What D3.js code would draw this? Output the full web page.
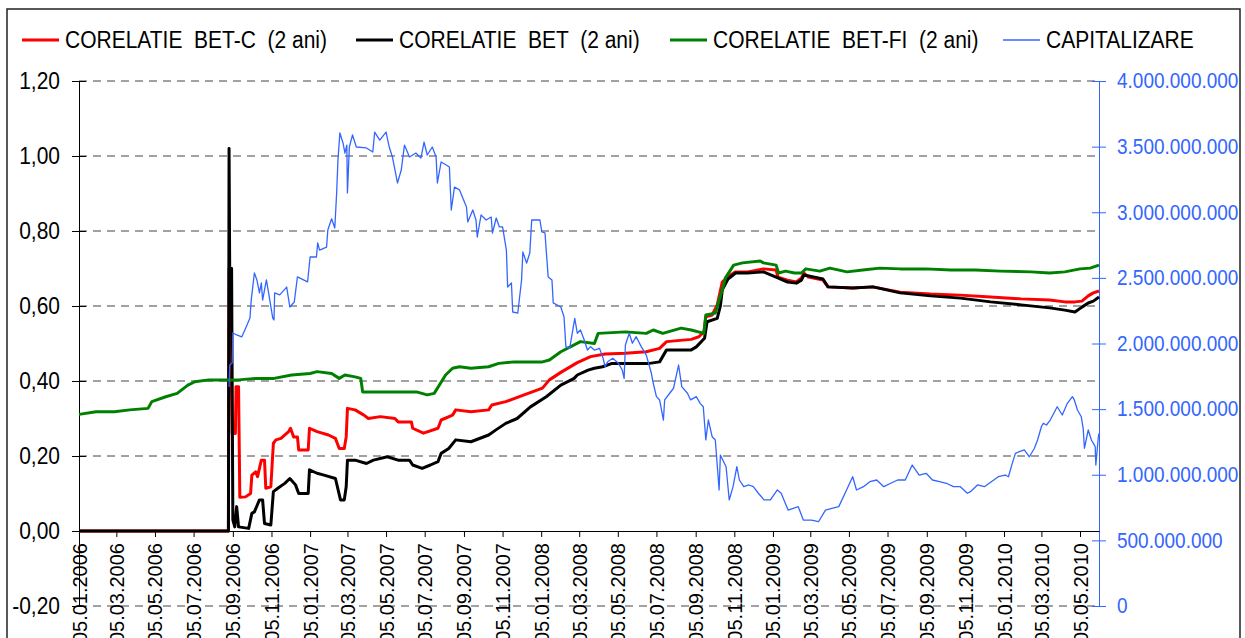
<!doctype html>
<html>
<head>
<meta charset="UTF-8">
<title>Corelatie BET / Capitalizare</title>
<script src="https://cdn.jsdelivr.net/npm/d3@7"></script>
<style>
body { margin: 0; background: #fff; }
text { font-family: "Liberation Sans", Arial, sans-serif; }
.legend text { white-space: pre; }
</style>
</head>
<body>
<script>

// tick labels of the date axis (every 2 months)
var tickLabels = ["05.01.2006","05.03.2006","05.05.2006","05.07.2006","05.09.2006","05.11.2006",
  "05.01.2007","05.03.2007","05.05.2007","05.07.2007","05.09.2007","05.11.2007",
  "05.01.2008","05.03.2008","05.05.2008","05.07.2008","05.09.2008","05.11.2008",
  "05.01.2009","05.03.2009","05.05.2009","05.07.2009","05.09.2009","05.11.2009",
  "05.01.2010","05.03.2010","05.05.2010"];

var leftTicks = [-0.2, 0, 0.2, 0.4, 0.6, 0.8, 1.0, 1.2];
var rightTicks = [0, 500, 1000, 1500, 2000, 2500, 3000, 3500, 4000]; // milioane

var seriesNames = ["CORELATIE  BET-C  (2 ani)", "CORELATIE  BET  (2 ani)", "CORELATIE  BET-FI  (2 ani)", "CAPITALIZARE"];

// corelatie BET-C
var betc = [
  ["2006-01-05",0],["2006-08-29",0],["2006-08-30",0.70],["2006-09-02",0.56],["2006-09-04",0.26],
  ["2006-09-09",0.26],["2006-09-10",0.385],["2006-09-14",0.385],["2006-09-16",0.09],["2006-09-25",0.091],
  ["2006-10-03",0.10],["2006-10-05",0.149],["2006-10-11",0.158],["2006-10-14",0.145],["2006-10-20",0.189],
  ["2006-10-25",0.189],["2006-10-27",0.114],["2006-11-04",0.118],["2006-11-08",0.234],["2006-11-12",0.243],
  ["2006-11-20",0.247],["2006-12-02",0.265],["2006-12-05",0.274],["2006-12-10",0.251],["2006-12-16",0.251],
  ["2006-12-18",0.216],["2007-01-02",0.216],["2007-01-04",0.274],["2007-01-16",0.265],["2007-02-03",0.256],
  ["2007-02-14",0.247],["2007-02-20",0.22],["2007-02-28",0.22],["2007-03-03",0.251],["2007-03-05",0.327],
  ["2007-03-17",0.323],["2007-03-31",0.309],["2007-04-07",0.30],["2007-04-26",0.305],["2007-05-19",0.30],
  ["2007-05-24",0.291],["2007-06-14",0.291],["2007-06-16",0.274],["2007-07-03",0.261],["2007-07-26",0.274],
  ["2007-07-31",0.296],["2007-08-18",0.309],["2007-08-23",0.323],["2007-09-16",0.318],["2007-10-14",0.323],
  ["2007-10-19",0.336],["2007-11-10",0.345],["2007-12-09",0.363],["2008-01-07",0.381],["2008-01-18",0.403],
  ["2008-02-05",0.423],["2008-03-02",0.449],["2008-03-23",0.465],["2008-04-15",0.472],["2008-05-17",0.474],
  ["2008-06-19",0.478],["2008-07-10",0.487],["2008-07-21",0.505],["2008-08-29",0.511],["2008-09-10",0.518],
  ["2008-09-18",0.531],["2008-09-21",0.571],["2008-10-01",0.576],["2008-10-09",0.603],["2008-10-17",0.664],
  ["2008-10-25",0.677],["2008-11-07",0.691],["2008-11-26",0.691],["2008-12-21",0.699],["2009-01-10",0.696],
  ["2009-01-13",0.677],["2009-01-28",0.669],["2009-02-11",0.664],["2009-02-19",0.675],["2009-02-23",0.688],
  ["2009-03-02",0.677],["2009-03-25",0.669],["2009-04-02",0.651],["2009-05-11",0.648],["2009-06-12",0.651],
  ["2009-07-25",0.637],["2009-09-11",0.632],["2009-10-28",0.629],["2009-12-15",0.624],["2010-02-01",0.619],
  ["2010-03-18",0.616],["2010-04-11",0.611],["2010-04-27",0.611],["2010-05-08",0.613],["2010-05-18",0.627],
  ["2010-05-26",0.635],["2010-06-04",0.64]
];

// corelatie BET
var bet = [
  ["2006-01-05",0],["2006-08-29",0],["2006-08-30",1.02],["2006-08-31",0.70],["2006-09-03",0.70],
  ["2006-09-05",0.03],["2006-09-08",0.011],["2006-09-11",0.065],["2006-09-14",0.011],["2006-09-30",0.007],
  ["2006-10-05",0.047],["2006-10-09",0.051],["2006-10-17",0.083],["2006-10-22",0.083],["2006-10-25",0.02],
  ["2006-11-04",0.016],["2006-11-08",0.105],["2006-11-15",0.114],["2006-11-26",0.127],["2006-12-04",0.14],
  ["2006-12-13",0.123],["2006-12-18",0.10],["2007-01-02",0.10],["2007-01-04",0.163],["2007-01-16",0.154],
  ["2007-01-27",0.149],["2007-02-14",0.14],["2007-02-22",0.083],["2007-02-28",0.083],["2007-03-03",0.118],
  ["2007-03-05",0.189],["2007-03-17",0.189],["2007-04-04",0.18],["2007-04-15",0.189],["2007-05-07",0.198],
  ["2007-05-24",0.189],["2007-06-11",0.189],["2007-06-16",0.176],["2007-07-01",0.167],["2007-07-14",0.176],
  ["2007-07-26",0.185],["2007-07-31",0.207],["2007-08-12",0.22],["2007-08-23",0.243],["2007-09-16",0.238],
  ["2007-10-14",0.256],["2007-10-25",0.269],["2007-11-10",0.287],["2007-11-28",0.30],["2007-12-19",0.331],
  ["2008-01-13",0.358],["2008-02-05",0.389],["2008-02-26",0.407],["2008-03-02",0.416],["2008-03-19",0.429],
  ["2008-03-29",0.434],["2008-04-11",0.438],["2008-04-26",0.447],["2008-05-23",0.447],["2008-06-24",0.447],
  ["2008-07-10",0.451],["2008-07-21",0.483],["2008-08-29",0.483],["2008-09-06",0.491],["2008-09-19",0.514],
  ["2008-09-23",0.558],["2008-10-09",0.567],["2008-10-14",0.60],["2008-10-17",0.643],["2008-10-26",0.672],
  ["2008-11-07",0.688],["2008-11-26",0.688],["2008-12-21",0.691],["2009-01-10",0.677],["2009-01-28",0.664],
  ["2009-02-11",0.661],["2009-02-19",0.669],["2009-02-23",0.683],["2009-03-25",0.672],["2009-04-02",0.651],
  ["2009-05-11",0.648],["2009-06-12",0.651],["2009-07-25",0.635],["2009-09-11",0.627],["2009-10-28",0.621],
  ["2009-12-15",0.611],["2010-02-01",0.603],["2010-03-18",0.595],["2010-04-11",0.589],["2010-04-27",0.584],
  ["2010-05-08",0.597],["2010-05-18",0.608],["2010-05-26",0.613],["2010-06-04",0.624]
];

// corelatie BET-FI
var betfi = [
  ["2006-01-05",0.311],["2006-02-01",0.318],["2006-03-02",0.318],["2006-03-26",0.323],["2006-04-24",0.327],
  ["2006-04-30",0.345],["2006-05-22",0.358],["2006-06-09",0.367],["2006-06-26",0.389],["2006-07-07",0.398],
  ["2006-07-29",0.403],["2006-08-27",0.403],["2006-09-14",0.403],["2006-10-11",0.407],["2006-11-09",0.407],
  ["2006-12-07",0.416],["2007-01-05",0.42],["2007-01-16",0.425],["2007-02-08",0.42],["2007-02-20",0.407],
  ["2007-03-01",0.416],["2007-03-17",0.411],["2007-03-26",0.407],["2007-03-29",0.371],["2007-04-26",0.371],
  ["2007-05-24",0.371],["2007-06-22",0.371],["2007-07-09",0.363],["2007-07-20",0.367],["2007-08-07",0.416],
  ["2007-08-18",0.434],["2007-08-29",0.438],["2007-09-16",0.434],["2007-10-14",0.438],["2007-10-30",0.447],
  ["2007-11-23",0.451],["2008-01-07",0.451],["2008-01-18",0.456],["2008-02-05",0.478],["2008-03-07",0.505],
  ["2008-03-29",0.50],["2008-04-04",0.527],["2008-05-17",0.531],["2008-06-19",0.527],["2008-06-30",0.536],
  ["2008-07-15",0.527],["2008-08-13",0.541],["2008-08-29",0.536],["2008-09-18",0.527],["2008-09-21",0.576],
  ["2008-10-06",0.581],["2008-10-12",0.616],["2008-10-17",0.643],["2008-10-22",0.675],["2008-11-04",0.709],
  ["2008-11-18",0.715],["2008-12-16",0.72],["2008-12-21",0.715],["2009-01-10",0.709],["2009-01-14",0.688],
  ["2009-01-25",0.693],["2009-02-08",0.688],["2009-02-19",0.688],["2009-02-26",0.699],["2009-03-20",0.693],
  ["2009-04-05",0.701],["2009-05-02",0.691],["2009-05-27",0.696],["2009-06-23",0.701],["2009-07-25",0.699],
  ["2009-09-03",0.699],["2009-10-13",0.696],["2009-11-21",0.696],["2009-12-30",0.693],["2010-02-17",0.691],
  ["2010-03-18",0.688],["2010-04-11",0.691],["2010-05-05",0.699],["2010-05-21",0.701],["2010-06-04",0.709]
];

// capitalizare, milioane
var capitalizare = [
  ["2006-08-30",1669],["2006-08-31",1836],["2006-09-04",1851],["2006-09-05",2080],["2006-09-11",2065],
  ["2006-09-19",2050],["2006-09-26",2126],["2006-10-02",2194],["2006-10-04",2331],["2006-10-09",2537],
  ["2006-10-13",2484],["2006-10-17",2385],["2006-10-20",2461],["2006-10-22",2331],["2006-10-28",2484],
  ["2006-11-01",2370],["2006-11-07",2194],["2006-11-09",2179],["2006-11-10",2385],["2006-11-18",2370],
  ["2006-11-29",2430],["2006-12-04",2278],["2006-12-11",2316],["2006-12-16",2507],["2007-01-01",2469],
  ["2007-01-05",2659],["2007-01-15",2659],["2007-01-17",2766],["2007-01-20",2712],["2007-01-31",2735],
  ["2007-02-02",2865],["2007-02-08",2950],["2007-02-13",2880],["2007-02-16",3154],["2007-02-18",3398],
  ["2007-02-21",3604],["2007-02-26",3528],["2007-03-01",3451],["2007-03-04",3512],["2007-03-05",3147],
  ["2007-03-08",3497],["2007-03-13",3589],["2007-03-19",3497],["2007-04-04",3490],["2007-04-14",3459],
  ["2007-04-17",3611],["2007-04-25",3550],["2007-05-05",3611],["2007-05-10",3497],["2007-05-15",3421],
  ["2007-05-23",3223],["2007-05-29",3322],["2007-06-03",3512],["2007-06-11",3421],["2007-06-21",3451],
  ["2007-06-29",3413],["2007-07-04",3535],["2007-07-09",3436],["2007-07-17",3497],["2007-07-23",3421],
  ["2007-07-25",3223],["2007-07-31",3383],["2007-08-08",3360],["2007-08-13",3345],["2007-08-16",3017],
  ["2007-08-21",3192],["2007-08-29",3170],["2007-09-09",3040],["2007-09-11",2926],["2007-09-19",3017],
  ["2007-09-24",2941],["2007-09-26",2811],["2007-10-02",2979],["2007-10-10",2941],["2007-10-18",2964],
  ["2007-10-20",2842],["2007-10-26",2956],["2007-10-31",2888],["2007-11-05",2888],["2007-11-11",2712],
  ["2007-11-13",2430],["2007-11-19",2461],["2007-11-21",2240],["2007-11-29",2232],["2007-12-05",2484],
  ["2007-12-07",2697],["2007-12-13",2613],["2007-12-18",2690],["2007-12-21",2941],["2008-01-03",2941],
  ["2008-01-06",2850],["2008-01-11",2842],["2008-01-16",2507],["2008-01-22",2484],["2008-01-24",2309],
  ["2008-02-05",2278],["2008-02-10",2204],["2008-02-13",1976],["2008-02-19",1963],["2008-02-27",2192],
  ["2008-03-02",2078],["2008-03-07",2103],["2008-03-13",2027],["2008-03-18",1950],["2008-03-23",1976],
  ["2008-03-29",1950],["2008-04-06",1963],["2008-04-11",1900],["2008-04-15",1823],["2008-04-19",1861],
  ["2008-04-27",1887],["2008-05-06",1849],["2008-05-12",1798],["2008-05-15",1735],["2008-05-17",1989],
  ["2008-05-23",2078],["2008-05-28",2002],["2008-06-03",2052],["2008-06-11",1976],["2008-06-19",1912],
  ["2008-06-27",1773],["2008-06-30",1697],["2008-07-05",1595],["2008-07-10",1570],["2008-07-16",1417],
  ["2008-07-18",1570],["2008-07-26",1621],["2008-08-01",1659],["2008-08-09",1836],["2008-08-14",1671],
  ["2008-08-23",1621],["2008-08-28",1570],["2008-09-06",1595],["2008-09-12",1544],["2008-09-17",1518],
  ["2008-09-21",1265],["2008-09-25",1417],["2008-10-01",1290],["2008-10-06",1265],["2008-10-12",884],
  ["2008-10-14",1150],["2008-10-23",1061],["2008-10-28",808],["2008-11-03",909],["2008-11-09",1061],
  ["2008-11-13",960],["2008-11-20",909],["2008-11-28",922],["2008-12-05",909],["2008-12-13",859],
  ["2008-12-22",808],["2009-01-01",808],["2009-01-12",884],["2009-01-18",859],["2009-01-29",731],
  ["2009-02-14",757],["2009-02-22",655],["2009-03-07",655],["2009-03-18",642],["2009-03-29",731],
  ["2009-04-08",744],["2009-04-19",757],["2009-04-30",871],["2009-05-11",985],["2009-05-17",884],
  ["2009-05-28",909],["2009-06-07",947],["2009-06-18",960],["2009-06-29",909],["2009-07-10",935],
  ["2009-07-21",960],["2009-08-02",960],["2009-08-13",1074],["2009-08-24",998],["2009-09-04",1011],
  ["2009-09-14",960],["2009-09-25",947],["2009-10-06",935],["2009-10-17",909],["2009-10-28",909],
  ["2009-11-08",859],["2009-11-13",871],["2009-11-24",922],["2009-12-05",909],["2009-12-16",947],
  ["2009-12-27",985],["2010-01-07",998],["2010-01-12",985],["2010-01-18",1087],["2010-01-23",1163],
  ["2010-01-29",1176],["2010-02-06",1189],["2010-02-14",1137],["2010-02-22",1202],["2010-02-27",1265],
  ["2010-03-05",1366],["2010-03-08",1392],["2010-03-13",1379],["2010-03-19",1417],["2010-03-30",1518],
  ["2010-04-07",1455],["2010-04-15",1544],["2010-04-23",1595],["2010-04-26",1570],["2010-05-01",1493],
  ["2010-05-07",1442],["2010-05-10",1354],["2010-05-12",1202],["2010-05-18",1341],["2010-05-23",1265],
  ["2010-05-29",1214],["2010-05-30",1074],["2010-06-03",1290],["2010-06-04",1316]
];

var colors = ["#ff0000", "#000000", "#008000", "#3366ff"];

var w = 1245;
var h = 638;
var plot = {left: 79, right: 1099, top: 81, bottom: 606};

var parseDate = d3.timeParse("%Y-%m-%d");
var parseTick = d3.timeParse("%d.%m.%Y");

var xScale = d3.scaleTime()
  .domain([parseDate("2006-01-05"), parseDate("2010-06-04")])
  .range([plot.left, plot.right]);

var yScale = d3.scaleLinear()
  .domain([-0.2, 1.2])
  .range([plot.bottom, plot.top]);

var y2Scale = d3.scaleLinear()
  .domain([0, 4000])
  .range([plot.bottom, plot.top]);

var roLocale = d3.formatLocale({decimal: ",", thousands: ".", grouping: [3], currency: ["", ""], minus: "-"});
var fmtLeft = roLocale.format(".2f");
var fmtRight = roLocale.format(",.0f");

// the original text is a bit taller than wide, stretch it vertically
function stretch(sel, k) {
  sel.each(function() {
    var t = d3.select(this);
    var x = +t.attr("x") || 0;
    var y = +t.attr("y") || 0;
    t.attr("x", 0).attr("y", 0)
     .attr("transform", "translate(" + x + "," + y + ") scale(1," + k + ")");
  });
}

var svg = d3.select("body")
  .append("svg")
  .attr("width", w)
  .attr("height", h);

// chart border
svg.append("rect")
  .attr("x", 7).attr("y", 9)
  .attr("width", 1233).attr("height", 700)
  .attr("fill", "none")
  .attr("stroke", "#222")
  .attr("stroke-width", 1.5);

// dashed grid lines
svg.append("g")
  .selectAll("line")
  .data(leftTicks.filter(function(d) { return d !== 0; }))
  .enter()
  .append("line")
  .attr("x1", plot.left)
  .attr("x2", plot.right)
  .attr("y1", function(d) { return yScale(d); })
  .attr("y2", function(d) { return yScale(d); })
  .attr("stroke", "#444")
  .attr("stroke-width", 1)
  .attr("stroke-dasharray", "8,6");

// left axis
var gy = svg.append("g")
  .attr("transform", "translate(" + plot.left + ",0)")
  .call(d3.axisLeft(yScale).tickValues(leftTicks).tickFormat(fmtLeft).tickSize(7).tickSizeOuter(0).tickPadding(12));
gy.selectAll(".tick line").attr("x1", 7);
gy.selectAll("text").attr("font-size", "21px").attr("fill", "#000").style("font-family", "Liberation Sans, Arial, sans-serif")
  .call(stretch, 1.12);

// right axis
var gy2 = svg.append("g")
  .attr("transform", "translate(" + plot.right + ",0)")
  .call(d3.axisRight(y2Scale).tickValues(rightTicks).tickFormat(function(d) { return fmtRight(d * 1e6); })
    .tickSize(7).tickSizeOuter(0).tickPadding(11));
gy2.selectAll(".tick line").attr("x1", -7).attr("stroke", colors[3]);
gy2.select(".domain").attr("stroke", colors[3]);
gy2.selectAll("text").attr("font-size", "19px").attr("fill", colors[3]).style("font-family", "Liberation Sans, Arial, sans-serif")
  .call(stretch, 1.12);

// date axis on the zero line
var gx = svg.append("g")
  .attr("transform", "translate(0," + yScale(0) + ")")
  .call(d3.axisBottom(xScale)
    .tickValues(tickLabels.map(function(t) { return parseTick(t); }))
    .tickFormat(function(d, i) { return tickLabels[i]; })
    .tickSize(6).tickSizeOuter(0));
gx.selectAll("text")
  .attr("transform", "rotate(-90)")
  .attr("text-anchor", "end")
  .attr("x", -12)
  .attr("y", 0)
  .attr("dy", "0.35em")
  .attr("font-size", "20px")
  .attr("fill", "#000")
  .style("font-family", "Liberation Sans, Arial, sans-serif");

// series
var lineLeft = d3.line()
  .x(function(d) { return xScale(parseDate(d[0])); })
  .y(function(d) { return yScale(d[1]); });

var lineRight = d3.line()
  .x(function(d) { return xScale(parseDate(d[0])); })
  .y(function(d) { return y2Scale(d[1]); });

var corr = [betc, bet, betfi];
corr.forEach(function(s, i) {
  svg.append("path")
    .datum(s)
    .attr("d", lineLeft)
    .attr("fill", "none")
    .attr("stroke", colors[i])
    .attr("stroke-width", 3)
    .attr("stroke-linejoin", "round");
});

svg.append("path")
  .datum(capitalizare)
  .attr("d", lineRight)
  .attr("fill", "none")
  .attr("stroke", colors[3])
  .attr("stroke-width", 1.3)
  .attr("stroke-linejoin", "round");

// legend
var legendX = [22, 356, 670, 1003];
var legend = svg.append("g").attr("class", "legend");
seriesNames.forEach(function(name, i) {
  legend.append("line")
    .attr("x1", legendX[i]).attr("x2", legendX[i] + 37)
    .attr("y1", 40).attr("y2", 40)
    .attr("stroke", colors[i])
    .attr("stroke-width", i === 3 ? 1.3 : 3);
  legend.append("text")
    .attr("x", legendX[i] + 43)
    .attr("y", 40)
    .attr("dy", "0.36em")
    .attr("font-size", "21px")
    .attr("fill", "#000")
    .text(name)
    .call(stretch, 1.12);
});

</script>
</body>
</html>
